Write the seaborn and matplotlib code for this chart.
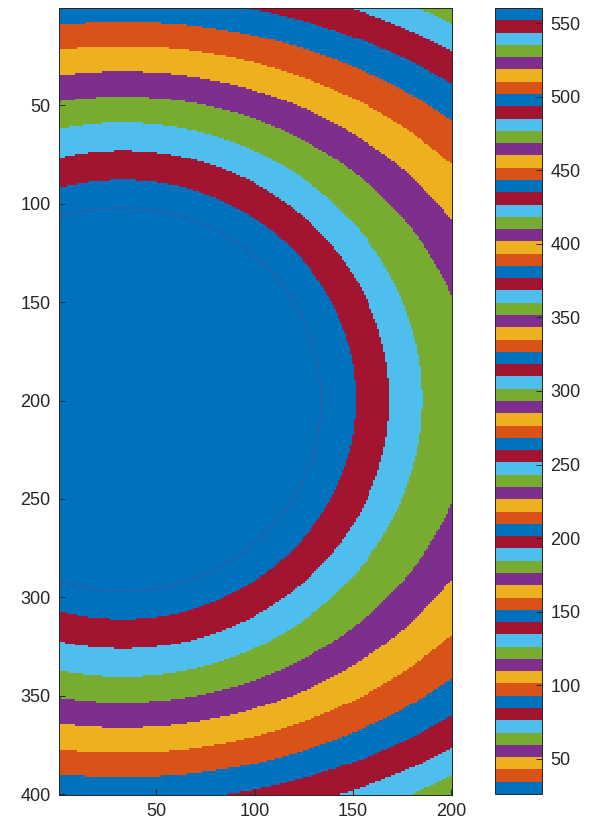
import numpy as np
import matplotlib
matplotlib.use("Agg")
import matplotlib.pyplot as plt
from matplotlib.colors import ListedColormap
import seaborn as sns

# Field size (rows x columns) and colour limits
n_rows, n_cols = 400, 200
c_min, c_max = 26.2, 560.2
n_levels = 64

# Nested elliptical contours of the field: value, horizontal and vertical semi-axis
ring_level = [600.0, 551.9, 543.5, 535.2, 526.8, 518.5, 510.2, 501.8, 493.5, 485.1, 476.8, 468.4, 400.0]
ring_a = [1.0, 118.4, 135.5, 152.0, 178.0, 200.0, 224.0, 248.0, 270.0, 290.0, 302.0, 330.0, 600.0]
ring_b = [1.0, 111.6, 126.6, 140.8, 154.0, 166.7, 179.4, 192.1, 204.5, 217.0, 229.5, 242.0, 500.0]
centre_x, centre_y = 33.0, 199.5

# Thin seam ellipse inside the core
seam_a, seam_b = 101.0, 97.5

# Repeating seven-colour palette
line_colors = ["#0072BD", "#D95319", "#EDB120", "#7E2F8E", "#77AC30", "#4DBEEE", "#A2142F"]

x_ticks = [50, 100, 150, 200]
y_ticks = [50, 100, 150, 200, 250, 300, 350, 400]
cbar_ticks = [50, 100, 150, 200, 250, 300, 350, 400, 450, 500, 550]

cmap = ListedColormap([line_colors[i % len(line_colors)] for i in range(n_levels)])

cols = np.arange(1, n_cols + 1)
rows = np.arange(1, n_rows + 1)
X, Y = np.meshgrid(cols, rows)
dx = X - centre_x
dy = Y - centre_y

# Normalised elliptical radius for every contour; decreases as the contours grow
a = np.array(ring_a)[:, None, None]
b = np.array(ring_b)[:, None, None]
s = np.sqrt((dx / a) ** 2 + (dy / b) ** 2)
lev = np.array(ring_level)
inside = s <= 1.0
k = np.argmax(inside, axis=0)
k = np.clip(k, 1, len(lev) - 1)
s_out = np.take_along_axis(s, (k - 1)[None], axis=0)[0]
s_in = np.take_along_axis(s, k[None], axis=0)[0]
t = np.clip((s_out - 1.0) / (s_out - s_in), 0.0, 1.0)
field = lev[k - 1] + t * (lev[k] - lev[k - 1])

fig = plt.figure(figsize=(5.89, 8.36), dpi=100)
ax = fig.add_axes([59 / 589, 41 / 836, 393 / 589, 787 / 836])
cax = fig.add_axes([495 / 589, 42 / 836, 47 / 589, 786 / 836])

sns.heatmap(field, ax=ax, cmap=cmap, vmin=c_min, vmax=c_max, cbar=True, cbar_ax=cax,
            xticklabels=False, yticklabels=False, rasterized=True,
            cbar_kws={"ticks": cbar_ticks})

# Seam ellipse drawn in the heatmap's cell coordinates
th = np.linspace(0, 2 * np.pi, 900)
sx = centre_x + seam_a * np.cos(th) - 0.5
sy = centre_y + seam_b * np.sin(th) - 0.5
ax.plot(sx, sy, linestyle=(0, (1.2, 1.6)), color="#8B3A8F", lw=0.9, alpha=0.85)
ax.set_xlim(0, n_cols)
ax.set_ylim(n_rows, 0)

text_color = "#262626"
ax.set_xticks([v - 0.5 for v in x_ticks])
ax.set_xticklabels([str(v) for v in x_ticks])
ax.set_yticks([v - 0.5 for v in y_ticks])
ax.set_yticklabels([str(v) for v in y_ticks], rotation=0)
ax.tick_params(direction="in", length=4, width=0.7, color=text_color,
               labelsize=13, labelcolor=text_color, pad=6)
for lab in ax.get_xticklabels() + ax.get_yticklabels():
    lab.set_family("Liberation Sans")
for sp in ax.spines.values():
    sp.set_visible(True)
    sp.set_linewidth(0.7)
    sp.set_color(text_color)

cb = ax.collections[0].colorbar
cb.outline.set_visible(True)
cb.outline.set_linewidth(0.7)
cb.outline.set_edgecolor(text_color)
cax.tick_params(direction="in", length=4, width=0.7, color=text_color,
                labelsize=13, labelcolor=text_color, pad=6)
for lab in cax.get_yticklabels():
    lab.set_family("Liberation Sans")

fig.savefig("out.png", dpi=100)
